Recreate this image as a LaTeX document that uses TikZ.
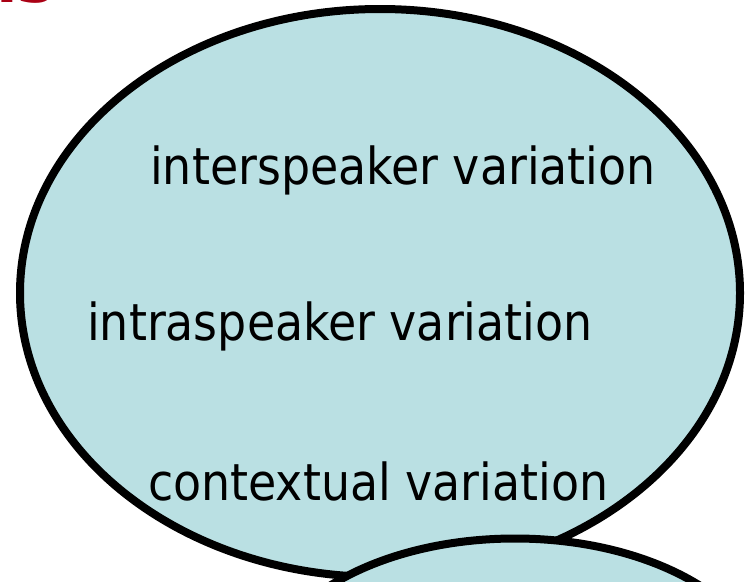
\documentclass[tikz,border=0pt]{standalone}
\usepackage{fontspec}
\setmainfont{DejaVu Sans Condensed}
\newfontfamily\headfont{DejaVu Sans}
\definecolor{bubble}{RGB}{186,224,227}
\definecolor{headred}{RGB}{170,0,20}
\begin{document}
\begin{tikzpicture}[x=1pt,y=-1pt,
  bubblestyle/.style={fill=bubble,draw=black,line width=8pt},
  vartext/.style={font=\fontsize{51}{60}\selectfont,inner sep=0pt,anchor=base west}]
\useasboundingbox (0,0) rectangle (746,581);
\clip (0,0) rectangle (746,581);
\node[font=\headfont\bfseries\fontsize{62}{70}\selectfont,text=headred,inner sep=0pt,anchor=base east] (head) at (55,2.5) {ns};
\draw[bubblestyle] (380,293) ellipse [x radius=360, y radius=284];
\node[vartext] (inter) at (150,184) {interspeaker variation};
\node[vartext] (intra) at (87,340) {intraspeaker variation};
\node[vartext] (context) at (148,500) {contextual variation};
\draw[bubblestyle] (515,688.5) ellipse [x radius=254, y radius=150];
\end{tikzpicture}
\end{document}
